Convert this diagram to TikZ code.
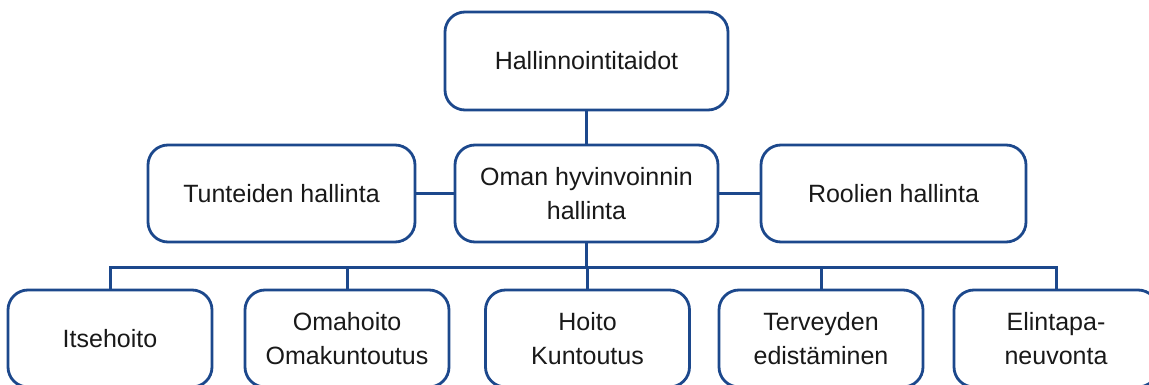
\documentclass[tikz,border=0pt]{standalone}
\usepackage{fontspec}
\setmainfont{Liberation Sans}
\definecolor{boxblue}{RGB}{28,72,140}
\begin{document}
\begin{tikzpicture}[x=1pt,y=1pt,
  box/.style={draw=boxblue, line width=2.8pt, rounded corners=20pt, fill=white,
    align=center, inner sep=0pt, font=\fontsize{25}{34}\selectfont, text=black!90},
  link/.style={draw=boxblue, line width=3pt}]
\useasboundingbox (0,0) rectangle (1149,-385);
\clip (0,0) rectangle (1149,-385);
% top
\node[box, minimum width=283pt, minimum height=98pt] (top) at (586.5,-61) {Hallinnointitaidot};
% middle row
\node[box, minimum width=263pt, minimum height=97pt] (mid) at (586.5,-193.5) {Oman hyvinvoinnin\\hallinta};
\node[box, minimum width=267pt, minimum height=97pt] (left) at (281.5,-193.5) {Tunteiden hallinta};
\node[box, minimum width=265pt, minimum height=97pt] (right) at (893.5,-193.5) {Roolien hallinta};
% bottom row
\node[box, minimum width=204pt, minimum height=97pt] (b1) at (110,-338.5) {Itsehoito};
\node[box, minimum width=204pt, minimum height=97pt] (b2) at (347,-338.5) {Omahoito\\Omakuntoutus};
\node[box, minimum width=204pt, minimum height=97pt] (b3) at (587.5,-338.5) {Hoito\\Kuntoutus};
\node[box, minimum width=204pt, minimum height=97pt] (b4) at (821,-338.5) {Terveyden\\edistäminen};
\node[box, minimum width=204pt, minimum height=97pt] (b5) at (1056,-338.5) {Elintapa-\\neuvonta};
% connectors
\coordinate (bar) at (0,-267.5);
\draw[link] (top.south) -- (mid.north);
\draw[link] (left.east) -- (mid.west);
\draw[link] (mid.east) -- (right.west);
\draw[link] (mid.south) -- (mid.south |- bar);
\draw[link] (b1.north) -- (b1.north |- bar) -- (b5.north |- bar) -- (b5.north);
\draw[link] (b2.north) -- (b2.north |- bar);
\draw[link] (b3.north) -- (b3.north |- bar);
\draw[link] (b4.north) -- (b4.north |- bar);
\end{tikzpicture}
\end{document}
